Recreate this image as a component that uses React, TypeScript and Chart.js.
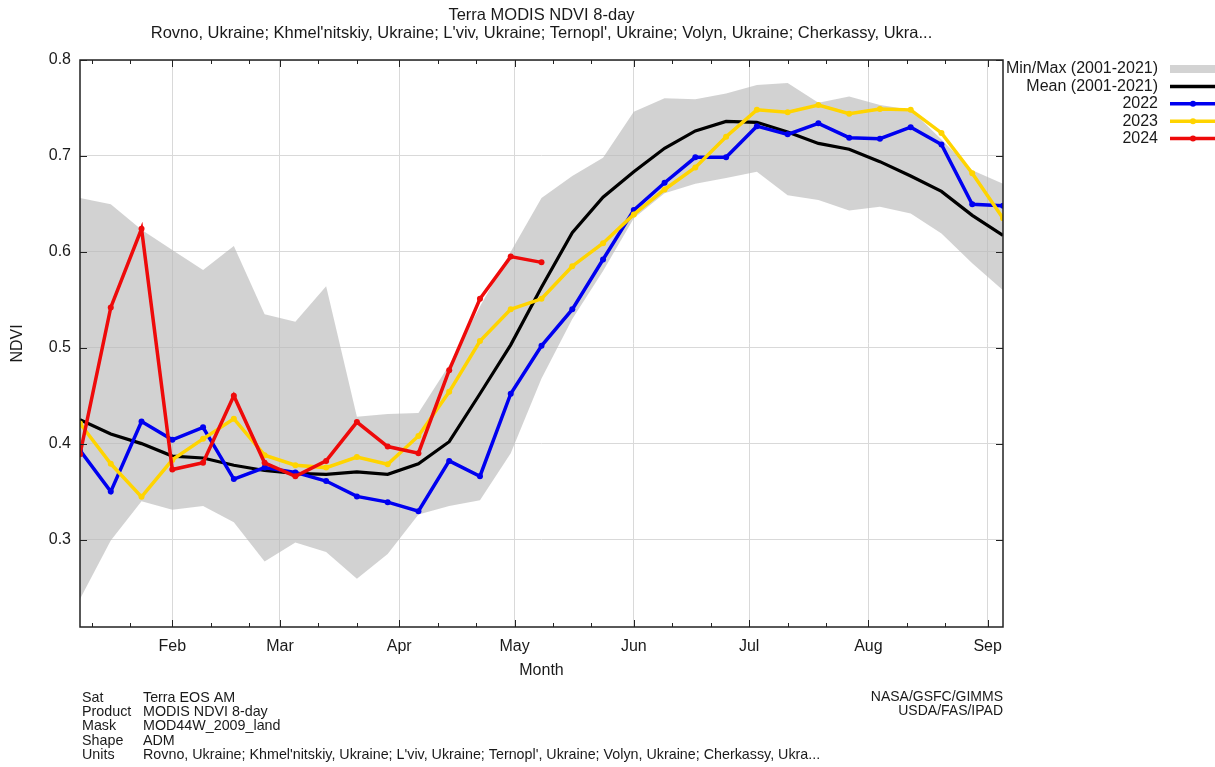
import React, { useEffect, useRef } from "react";
import { Chart, registerables } from "chart.js";

Chart.register(...registerables);

// Day of year at the end of each 8-day composite
const compositeDays = [8, 16, 24, 32, 40, 48, 56, 64, 72, 80, 88, 96, 104, 112, 120, 128, 136, 144, 152, 160, 168, 176, 184, 192, 200, 208, 216, 224, 232, 240, 248];

// Month axis (day of year of the 1st of each month)
const monthDays = [32, 60, 91, 121, 152, 182, 213, 244];
const monthLabels = ["Feb", "Mar", "Apr", "May", "Jun", "Jul", "Aug", "Sep"];
// Minor ticks on the 11th and 21st
const minorDays = [11, 21, 42, 52, 70, 80, 101, 111, 131, 141, 162, 172, 192, 202, 223, 233];

const yTicks = [0.3, 0.4, 0.5, 0.6, 0.7, 0.8];

const ndviMax = [0.656, 0.6495, 0.623, 0.602, 0.581, 0.606, 0.535, 0.527, 0.564, 0.428, 0.431, 0.432, 0.482, 0.543, 0.6, 0.656, 0.679, 0.698, 0.746, 0.76, 0.759, 0.765, 0.774, 0.776, 0.7555, 0.762, 0.753, 0.748, 0.717, 0.685, 0.671];
const ndviMin = [0.238, 0.299, 0.34, 0.331, 0.335, 0.318, 0.277, 0.297, 0.287, 0.259, 0.285, 0.326, 0.335, 0.341, 0.39, 0.468, 0.53, 0.58, 0.635, 0.661, 0.671, 0.677, 0.6835, 0.659, 0.654, 0.643, 0.647, 0.64, 0.619, 0.588, 0.56];
const ndviMean = [0.425, 0.41, 0.4, 0.387, 0.385, 0.3775, 0.372, 0.369, 0.368, 0.3705, 0.368, 0.379, 0.402, 0.452, 0.503, 0.563, 0.62, 0.657, 0.6835, 0.708, 0.726, 0.736, 0.735, 0.725, 0.713, 0.707, 0.694, 0.679, 0.663, 0.638, 0.617];
const ndvi2022 = [0.393, 0.35, 0.423, 0.404, 0.417, 0.363, 0.375, 0.37, 0.361, 0.345, 0.339, 0.3295, 0.382, 0.366, 0.452, 0.502, 0.54, 0.592, 0.6435, 0.672, 0.6985, 0.6985, 0.731, 0.7225, 0.734, 0.719, 0.718, 0.73, 0.712, 0.6495, 0.648];
const ndvi2023 = [0.421, 0.379, 0.3445, 0.383, 0.405, 0.426, 0.388, 0.3775, 0.375, 0.386, 0.3785, 0.408, 0.454, 0.507, 0.54, 0.551, 0.585, 0.609, 0.639, 0.665, 0.688, 0.72, 0.748, 0.7455, 0.753, 0.744, 0.749, 0.748, 0.724, 0.682, 0.635];
const ndvi2024 = [0.389, 0.542, 0.624, 0.373, 0.38, 0.45, 0.38, 0.366, 0.382, 0.4225, 0.397, 0.39, 0.4766, 0.551, 0.595, 0.589];

const legendLabels = ["Min/Max (2001-2021)", "Mean (2001-2021)", "2022", "2023", "2024"];
const COLORS = {
  band: "rgba(182,182,182,0.62)",
  bandLegend: "#d3d3d3",
  mean: "#000000",
  y2022: "#0000f0",
  y2023: "#ffd400",
  y2024: "#ee0a0a",
};

const titleText = "Terra MODIS NDVI 8-day";
const subtitleText = "Rovno, Ukraine; Khmel'nitskiy, Ukraine; L'viv, Ukraine; Ternopl', Ukraine; Volyn, Ukraine; Cherkassy, Ukra...";
const footerKeys = ["Sat", "Product", "Mask", "Shape", "Units"];
const footerValues = ["Terra EOS AM", "MODIS NDVI 8-day", "MOD44W_2009_land", "ADM", subtitleText];
const creditLines = ["NASA/GSFC/GIMMS", "USDA/FAS/IPAD"];

const FONT = '"Liberation Sans", Arial, Helvetica, sans-serif';

const toPoints = (vals: number[]) => vals.map((v, i) => ({ x: compositeDays[i], y: v }));

const decorPlugin = {
  id: "decor",
  afterDraw(chart: any) {
    const { ctx, chartArea } = chart;
    const xs = chart.scales.x;
    const ys = chart.scales.y;
    const { left, right, top, bottom } = chartArea;
    ctx.save();

    // inward tick marks
    ctx.strokeStyle = "#222";
    ctx.lineWidth = 1;
    ctx.beginPath();
    monthDays.forEach((d) => {
      const px = Math.round(xs.getPixelForValue(d)) + 0.5;
      ctx.moveTo(px, bottom);
      ctx.lineTo(px, bottom - 7);
      ctx.moveTo(px, top);
      ctx.lineTo(px, top + 7);
    });
    minorDays.forEach((d) => {
      const px = Math.round(xs.getPixelForValue(d)) + 0.5;
      ctx.moveTo(px, bottom);
      ctx.lineTo(px, bottom - 4);
      ctx.moveTo(px, top);
      ctx.lineTo(px, top + 4);
    });
    yTicks.forEach((v) => {
      const py = Math.round(ys.getPixelForValue(v)) + 0.5;
      ctx.moveTo(left, py);
      ctx.lineTo(left + 7, py);
      ctx.moveTo(right, py);
      ctx.lineTo(right - 7, py);
    });
    ctx.stroke();

    // frame
    ctx.lineWidth = 1.5;
    ctx.strokeStyle = "#222";
    ctx.strokeRect(left, top, right - left, bottom - top);

    ctx.fillStyle = "#1a1a1a";
    ctx.textBaseline = "middle";

    // titles
    const cx = (left + right) / 2;
    ctx.textAlign = "center";
    ctx.font = `16.5px ${FONT}`;
    ctx.fillText(titleText, cx, 15);
    ctx.fillText(subtitleText, cx, 33);
    ctx.font = `16px ${FONT}`;
    ctx.fillText("Month", cx, 671);

    ctx.save();
    ctx.translate(18, (top + bottom) / 2);
    ctx.rotate(-Math.PI / 2);
    ctx.fillText("NDVI", 0, 0);
    ctx.restore();

    // legend
    const legendColors = [COLORS.bandLegend, COLORS.mean, COLORS.y2022, COLORS.y2023, COLORS.y2024];
    ctx.textAlign = "right";
    legendLabels.forEach((lab, i) => {
      const ly = 69 + i * 17.4;
      ctx.fillStyle = "#1a1a1a";
      ctx.fillText(lab, 1158, ly);
      if (i === 0) {
        ctx.fillStyle = legendColors[i];
        ctx.fillRect(1170, ly - 4, 50, 8);
      } else {
        ctx.strokeStyle = legendColors[i];
        ctx.lineWidth = 3.5;
        ctx.beginPath();
        ctx.moveTo(1170, ly);
        ctx.lineTo(1220, ly);
        ctx.stroke();
        if (i > 1) {
          ctx.fillStyle = legendColors[i];
          ctx.beginPath();
          ctx.arc(1193, ly, 3, 0, Math.PI * 2);
          ctx.fill();
        }
      }
    });

    // footer
    ctx.fillStyle = "#1a1a1a";
    ctx.font = `14.3px ${FONT}`;
    ctx.textAlign = "left";
    footerKeys.forEach((k, i) => {
      const fy = 698 + i * 14.2;
      ctx.fillText(k, 82, fy);
      ctx.fillText(footerValues[i], 143, fy);
    });
    ctx.font = `14px ${FONT}`;
    ctx.textAlign = "right";
    creditLines.forEach((t, i) => {
      ctx.fillText(t, right, 697 + i * 14.2);
    });

    ctx.restore();
  },
};

export default function App() {
  const canvasRef = useRef<HTMLCanvasElement | null>(null);

  useEffect(() => {
    if (!canvasRef.current) return;
    Chart.defaults.font.family = FONT;
    const lineDs = (label: string, vals: number[], color: string, order: number, markers: boolean) => ({
      label,
      data: toPoints(vals),
      borderColor: color,
      backgroundColor: color,
      borderWidth: markers ? 3.5 : 3.2,
      pointRadius: markers ? 3 : 0,
      pointHoverRadius: 0,
      pointBorderWidth: 0,
      fill: false,
      tension: 0,
      order,
    });

    const chart = new Chart(canvasRef.current, {
      type: "line",
      data: {
        datasets: [
          lineDs("2024", ndvi2024, COLORS.y2024, 0, true),
          lineDs("2023", ndvi2023, COLORS.y2023, 1, true),
          lineDs("2022", ndvi2022, COLORS.y2022, 2, true),
          lineDs("Mean (2001-2021)", ndviMean, COLORS.mean, 3, false),
          {
            label: "Max (2001-2021)",
            data: toPoints(ndviMax),
            borderWidth: 0,
            borderColor: "rgba(0,0,0,0)",
            backgroundColor: COLORS.band,
            pointRadius: 0,
            fill: "+1",
            tension: 0,
            order: 4,
          },
          {
            label: "Min (2001-2021)",
            data: toPoints(ndviMin),
            borderWidth: 0,
            borderColor: "rgba(0,0,0,0)",
            backgroundColor: COLORS.band,
            pointRadius: 0,
            fill: false,
            tension: 0,
            order: 5,
          },
        ] as any,
      },
      options: {
        responsive: false,
        animation: false,
        devicePixelRatio: 1,
        layout: { padding: { top: 60, right: 212, bottom: 100, left: 0 } },
        plugins: {
          legend: { display: false },
          tooltip: { enabled: false },
          title: { display: false },
        },
        scales: {
          x: {
            type: "linear",
            min: 8,
            max: 248,
            afterBuildTicks: (scale: any) => {
              scale.ticks = monthDays.map((v) => ({ value: v }));
            },
            afterFit: (scale: any) => {
              scale.height = 40;
            },
            ticks: {
              callback: (_v: any, i: number) => monthLabels[i],
              color: "#1a1a1a",
              font: { size: 16 },
              padding: 10,
              maxRotation: 0,
              autoSkip: false,
            },
            grid: { color: "#d9d9d9", lineWidth: 1, drawTicks: false },
            border: { display: false },
          },
          y: {
            type: "linear",
            min: 0.2088,
            max: 0.8,
            afterBuildTicks: (scale: any) => {
              scale.ticks = yTicks.map((v) => ({ value: v }));
            },
            afterFit: (scale: any) => {
              scale.width = 80;
            },
            ticks: {
              callback: (v: any) => Number(v).toFixed(1),
              color: "#1a1a1a",
              font: { size: 16 },
              padding: 9,
            },
            grid: { color: "#d9d9d9", lineWidth: 1, drawTicks: false },
            border: { display: false },
          },
        },
      } as any,
      plugins: [decorPlugin],
    });

    return () => chart.destroy();
  }, []);

  return (
    <div style={{ position: "absolute", left: 0, top: 0, width: 1215, height: 767, background: "#fff" }}>
      <canvas ref={canvasRef} width={1215} height={767} style={{ display: "block" }} />
    </div>
  );
}
